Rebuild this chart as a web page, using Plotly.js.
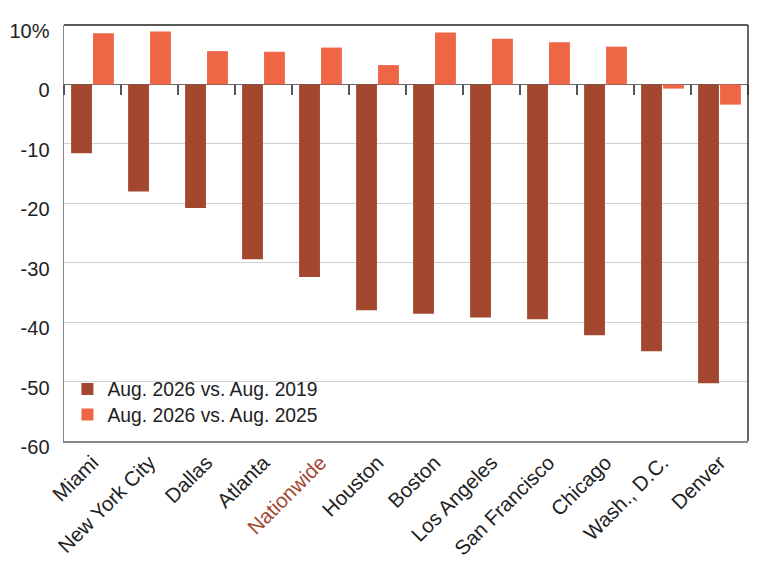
<!DOCTYPE html>
<html>
<head>
<meta charset="utf-8">
<script src="https://cdn.plot.ly/plotly-3.0.1.min.js"></script>
<style>html,body{margin:0;padding:0;background:#fff;}#chart{width:768px;height:576px;}</style>
</head>
<body>
<div id="chart"></div>
<script>
var categories = ["Miami","New York City","Dallas","Atlanta","Nationwide","Houston","Boston","Los Angeles","San Francisco","Chicago","Wash., D.C.","Denver"];
var vs2019 = [-11.6,-18.0,-20.8,-29.4,-32.4,-38.0,-38.6,-39.2,-39.5,-42.2,-44.9,-50.3];
var vs2025 = [8.6,8.9,5.6,5.5,6.2,3.25,8.75,7.7,7.1,6.35,-0.7,-3.4];
var seriesNames = ["Aug. 2026 vs. Aug. 2019","Aug. 2026 vs. Aug. 2025"];
var yTickVals = [10,0,-10,-20,-30,-40,-50,-60];
var yTickText = ["10%","0","-10","-20","-30","-40","-50","-60"];
var highlight = "Nationwide";

var darkColor = "#A3472F";
var lightColor = "#EF6647";
var yRange = [-60, 10];

var xTickText = categories.map(function(c){
  return c === highlight ? '<span style="fill:' + darkColor + '">' + c + '</span>' : c;
});

var font = "Liberation Sans, Arial, Helvetica, sans-serif";

var traces = [
  {type:"bar", x:categories, y:vs2019, name:seriesNames[0], marker:{color:darkColor}, hoverinfo:"skip", legend:"legend"},
  {type:"bar", x:categories, y:vs2025, name:seriesNames[1], marker:{color:lightColor}, hoverinfo:"skip", legend:"legend2"},
  {type:"scatter", x:categories, y:vs2019, xaxis:"x2", mode:"none", showlegend:false, hoverinfo:"skip"}
];

var zeroPos = (0 - yRange[0]) / (yRange[1] - yRange[0]);

var legendBase = {x:0.005, xanchor:"left", yanchor:"middle", bgcolor:"rgba(255,255,255,0)",
                  font:{size:19.3, family:font, color:"#222"}, itemwidth:30};

var layout = {
  width:768, height:576,
  margin:{l:64, r:20, t:25, b:135},
  paper_bgcolor:"#fff", plot_bgcolor:"#fff",
  font:{family:font, color:"#222"},
  barmode:"group", bargap:0.23, bargroupgap:0.05,
  showlegend:true,
  legend:Object.assign({}, legendBase, {y:0.124}),
  legend2:Object.assign({}, legendBase, {y:0.0625}),
  xaxis:{type:"category", tickmode:"array", tickvals:categories, ticktext:xTickText,
         tickangle:-45, tickfont:{size:20.5, family:font, color:"#222"},
         showline:true, linecolor:"#888", linewidth:1.5, ticks:"", showgrid:false, zeroline:false,
         range:[-0.5, categories.length - 0.5], fixedrange:true},
  xaxis2:{type:"category", overlaying:"x", matches:"x", anchor:"free", position:zeroPos,
          showticklabels:false, ticks:"outside", tickson:"boundaries", ticklen:10, tickwidth:1.2,
          tickcolor:"#555", showline:false, showgrid:false, zeroline:false},
  yaxis:{range:yRange, tickmode:"array", tickvals:yTickVals, ticktext:yTickText,
         tickfont:{size:20, family:font, color:"#222"}, ticklabelstandoff:9, ticklabelshift:6,
         showgrid:true, gridcolor:"#cfcfcf", gridwidth:1.2,
         zeroline:true, zerolinecolor:"#666", zerolinewidth:1.5,
         showline:true, linecolor:"#888", linewidth:1.5, ticks:"", fixedrange:true},
  shapes:[
    {type:"line", xref:"paper", yref:"paper", x0:0, x1:1, y0:1, y1:1, line:{color:"#222", width:1.5}},
    {type:"line", xref:"paper", yref:"paper", x0:1, x1:1, y0:0, y1:1, line:{color:"#333", width:1.5}}
  ]
};

Plotly.newPlot("chart", traces, layout, {displayModeBar:false, staticPlot:true});
</script>
</body>
</html>
